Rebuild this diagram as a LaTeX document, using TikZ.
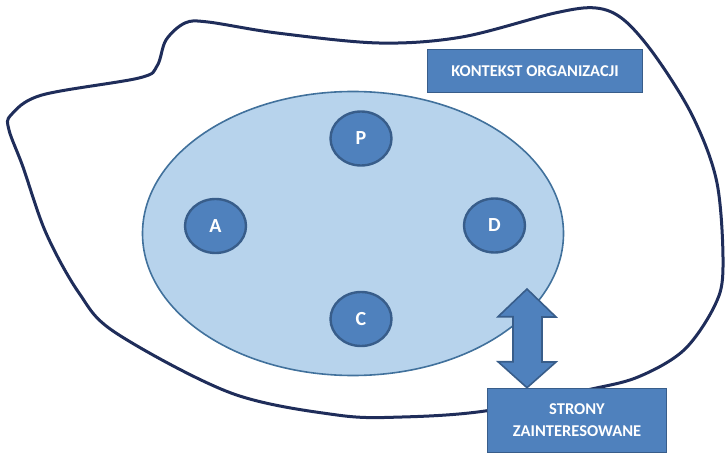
\documentclass[tikz,border=0pt]{standalone}
\usepackage{fontspec}
\setmainfont{Carlito}
\usetikzlibrary{shapes.geometric}
\definecolor{navy}{RGB}{31,45,90}
\definecolor{accent}{RGB}{79,129,189}
\definecolor{accentdark}{RGB}{56,93,138}
\definecolor{lightfill}{RGB}{183,211,236}
\definecolor{ellborder}{RGB}{65,113,156}
\tikzset{
  smallcirc/.style={ellipse, draw=accentdark, line width=2.4pt, fill=accent, minimum width=61, minimum height=54, inner sep=0pt, text=white, font=\bfseries\fontsize{20}{22}\selectfont},
  labelbox/.style={rectangle, draw=accentdark, line width=1.6pt, fill=accent, text=white, font=\bfseries\fontsize{16.5}{19}\selectfont, align=center, inner sep=0pt},
}
\begin{document}
\begin{tikzpicture}[x=1pt,y=-1pt]
\useasboundingbox (0,0) rectangle (725,454);
% context outline
\draw[navy, line width=3pt] plot[smooth cycle, tension=0.55] coordinates {
 (11,115) (42,95) (139,78) (157,66) (166,40) (185,23) (208,22) (277,33) (379,43) (462,37) (555,13) (596,8) (624,20) (656,57) (693,117) (717,183) (723,267) (715,305) (684,350) (638,377) (587,390) (485,411) (402,417) (337,415) (231,393) (116,333) (79,293) (46,233) (23,167) (9,130)};
% main ellipse
\node[ellipse, draw=ellborder, line width=1.6pt, fill=lightfill, minimum width=421, minimum height=284, inner sep=0pt] (org) at (353,233.5) {};
\node[smallcirc] (P) at (361,138.5) {P};
\node[smallcirc] (A) at (215.5,226) {A};
\node[smallcirc] (D) at (494.5,225.5) {D};
\node[smallcirc] (C) at (361,319) {C};
% boxes
\node[labelbox, minimum width=215, minimum height=43] (ctx) at (535,71) {KONTEKST ORGANIZACJI};
\node[labelbox, minimum width=179, minimum height=64] (sz) at (577,420.5) {STRONY\\[3pt]ZAINTERESOWANE};
% double arrow
\coordinate (atop) at (527,289);
\coordinate (abot) at (sz.north -| atop);
\draw[draw=accentdark, line width=1.6pt, fill=accent, line join=miter]
  (atop) -- ++(29,28) -- ++(-14,0) -- ++(0,45) -- ++(14,0) -- (abot)
  -- ++(-29,-26) -- ++(15,0) -- ++(0,-45) -- ++(-15,0) -- cycle;
\end{tikzpicture}
\end{document}
